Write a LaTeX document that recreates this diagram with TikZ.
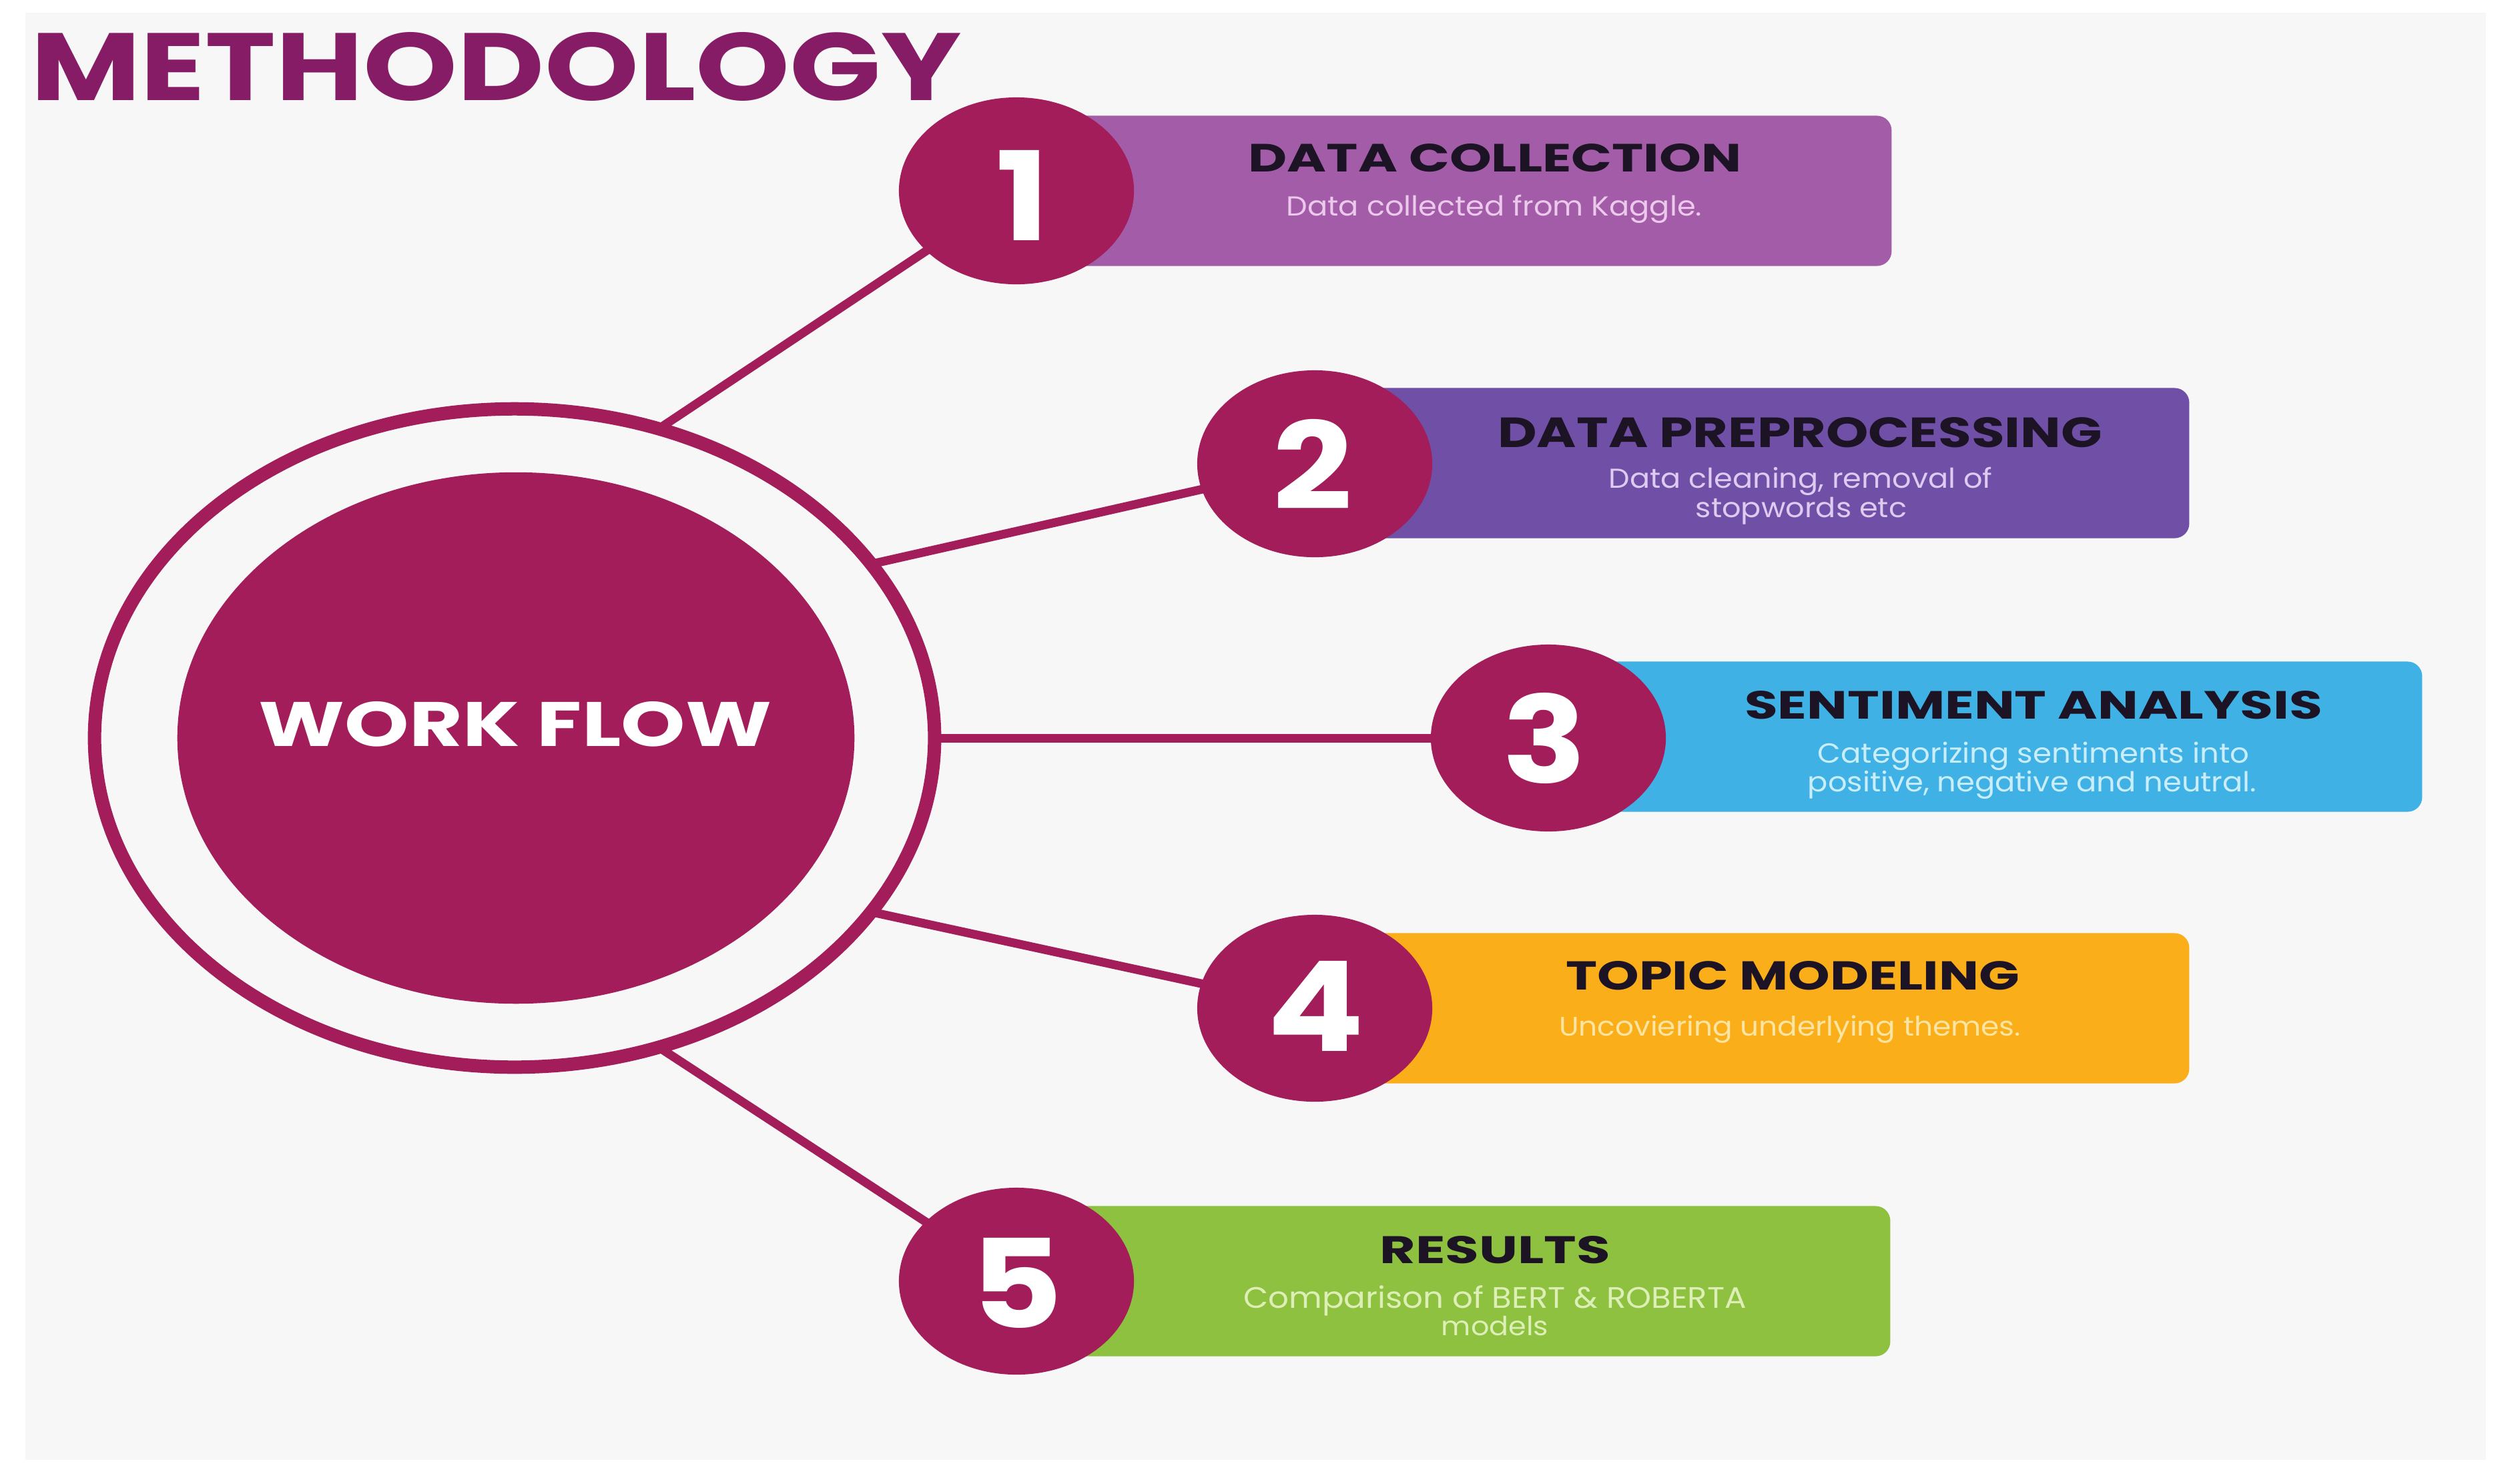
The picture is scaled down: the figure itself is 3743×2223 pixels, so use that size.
\documentclass[tikz,border=0pt]{standalone}
\usepackage{fontspec}
\setmainfont{Poppins}
\usetikzlibrary{shapes.geometric}
\definecolor{wine}{HTML}{A31D5B}
\definecolor{methc}{HTML}{861B66}
\definecolor{bgc}{HTML}{F7F7F7}
\definecolor{boxa}{HTML}{A35CA7}
\definecolor{boxb}{HTML}{7050A6}
\definecolor{boxc}{HTML}{3FB1E5}
\definecolor{boxd}{HTML}{FAAE1A}
\definecolor{boxe}{HTML}{8EC13F}
\definecolor{suba}{HTML}{EBC8EC}
\definecolor{subb}{HTML}{DDCBF2}
\definecolor{subc}{HTML}{C9EEFA}
\definecolor{subd}{HTML}{FCE5A2}
\definecolor{sube}{HTML}{DDEFB6}
\definecolor{titlec}{HTML}{1C1424}
\pgfdeclarelayer{back}
\pgfdeclarelayer{links}
\pgfsetlayers{back,links,main}
\tikzset{
  stepbox/.style={rectangle, rounded corners=0.22cm, minimum width=13.1cm, minimum height=2.25cm, inner sep=0pt, outer sep=0pt},
  numdisc/.style={ellipse, fill=wine, minimum width=3.52cm, minimum height=2.8cm, inner sep=0pt, outer sep=0pt},
  link/.style={draw=wine, line width=0.13cm},
  ttl/.style={inner sep=0pt, outer sep=0pt, anchor=north, text=titlec, font=\bfseries},
  subtxt/.style={inner sep=0pt, outer sep=0pt, anchor=north},
  digit/.style={inner sep=0pt, outer sep=0pt, anchor=north, text=white, font=\bfseries},
}
\newcommand{\dig}[1]{\scalebox{1.15}[1]{\resizebox{!}{1.35cm}{#1}}}
\newcommand{\subfit}[2]{\scalebox{1}[0.92]{\resizebox{#1}{!}{#2}}}
\begin{document}
\begin{tikzpicture}[x=0.01cm, y=-0.01cm]
\useasboundingbox (0,0) rectangle (3743,2223);
\begin{pgfonlayer}{back}
\fill[white] (0,0) rectangle (3743,2223);
\fill[bgc] (38,19) rectangle (3725,2188);
\end{pgfonlayer}

% title
\node[anchor=north west, inner sep=0pt, outer sep=0pt, text=methc, font=\bfseries] (title) at (46,48) {\resizebox{13.94cm}{1.02cm}{METHODOLOGY}};

% central work flow
\node[ellipse, draw=wine, line width=0.2cm, minimum width=12.58cm, minimum height=9.86cm, inner sep=0pt, outer sep=0pt] (ring) at (771,1106) {};
\node[ellipse, fill=wine, minimum width=10.14cm, minimum height=7.96cm, inner sep=0pt, outer sep=0pt] (core) at (773,1106) {};
\node[anchor=north, inner sep=0pt, outer sep=0pt, text=white, font=\bfseries] (wf) at (772,1051) {\resizebox{7.68cm}{0.67cm}{WORK FLOW}};

% boxes
\node[stepbox, fill=boxa] (b1) at (2179,286) {};
\node[stepbox, fill=boxb] (b2) at (2625,694) {};
\node[stepbox, fill=boxc] (b3) at (2974,1104) {};
\node[stepbox, fill=boxd] (b4) at (2625,1511) {};
\node[stepbox, fill=boxe] (b5) at (2177,1920) {};

% number discs
\node[numdisc] (n1) at (1523,286) {};
\node[numdisc] (n2) at (1970,695) {};
\node[numdisc] (n3) at (2320,1106) {};
\node[numdisc] (n4) at (1970,1511) {};
\node[numdisc] (n5) at (1523,1920) {};

\node[digit] (d1) at (1532,225) {\dig{1}};
\node[digit] (d2) at (1967,628) {\dig{2}};
\node[digit] (d3) at (2314,1038) {\dig{3}};
\node[digit] (d4) at (1972,1440) {\dig{4}};
\node[digit] (d5) at (1524,1855) {\dig{5}};

% connectors
\begin{pgfonlayer}{links}
\draw[link] (ring.65) -- (n1.center);
\draw[link] (ring.26) -- (n2.center);
\draw[link] (ring.0) -- (n3.center);
\draw[link] (ring.-26) -- (n4.center);
\draw[link] (ring.-65) -- (n5.center);
\end{pgfonlayer}

% titles
\node[ttl] (t1) at (2240,215) {\resizebox{7.38cm}{0.42cm}{DATA COLLECTION}};
\node[ttl] (t2) at (2697,625) {\resizebox{9.05cm}{0.45cm}{DATA PREPROCESSING}};
\node[ttl] (t3) at (3047,1035) {\resizebox{8.65cm}{0.42cm}{SENTIMENT ANALYSIS}};
\node[ttl] (t4) at (2686,1440) {\resizebox{6.79cm}{0.43cm}{TOPIC MODELING}};
\node[ttl] (t5) at (2240,1852) {\resizebox{3.45cm}{0.41cm}{RESULTS}};

% subtitles
\node[subtxt, text=suba] (s1) at (2239,292) {\subfit{6.22cm}{Data collected from Kaggle.}};
\node[subtxt, text=subb] (s2a) at (2698,700) {\subfit{5.74cm}{Data cleaning, removal of}};
\node[subtxt, text=subb] (s2b) at (2699,745) {\subfit{3.16cm}{stopwords etc}};
\node[subtxt, text=subc] (s3a) at (3047,1112) {\subfit{6.46cm}{Categorizing sentiments into}};
\node[subtxt, text=subc] (s3b) at (3045,1155) {\subfit{6.72cm}{positive, negative and neutral.}};
\node[subtxt, text=subd] (s4) at (2682,1522) {\subfit{6.91cm}{Uncoviering underlying themes.}};
\node[subtxt, text=sube] (s5a) at (2240,1927) {\subfit{7.53cm}{Comparison of BERT \& ROBERTA}};
\node[subtxt, text=sube] (s5b) at (2240,1972) {\subfit{1.60cm}{models}};
\end{tikzpicture}
\end{document}
